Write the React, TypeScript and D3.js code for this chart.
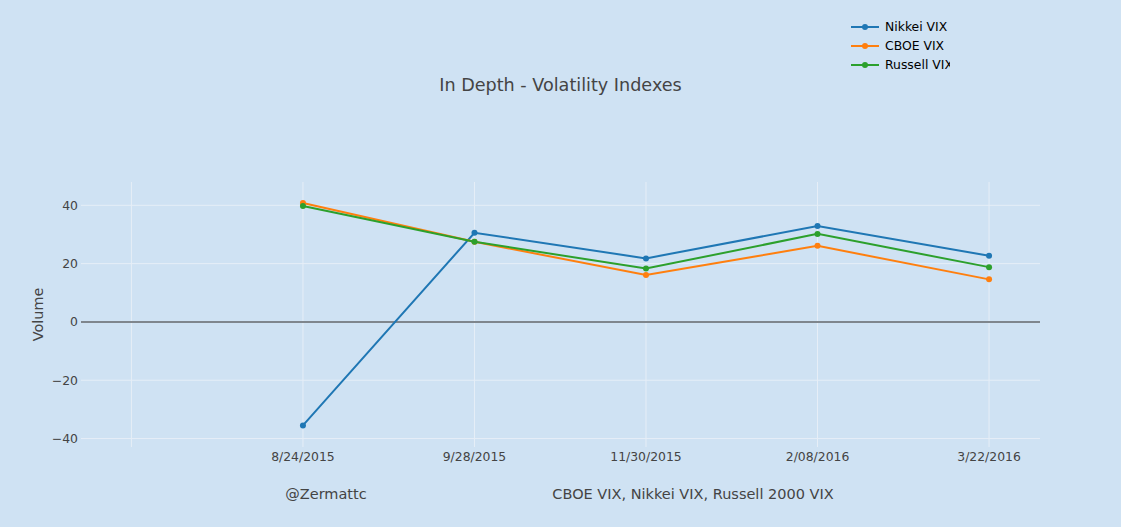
import React from "react";
import * as d3 from "d3";

const categories = ["8/24/2015", "9/28/2015", "11/30/2015", "2/08/2016", "3/22/2016"];
const nikkei = [-35.5, 30.6, 21.8, 32.9, 22.7];
const cboe = [40.8, 27.5, 16.1, 26.1, 14.6];
const russell = [39.8, 27.5, 18.3, 30.2, 18.8];
const yTicks = [-40, -20, 0, 20, 40];
const seriesNames = ["Nikkei VIX", "CBOE VIX", "Russell VIX"];
const seriesColors = ["#1f77b4", "#ff7f0e", "#2ca02c"];

const W = 1121, H = 527;
const L = 81, R = 1040, T = 182, B = 447;
const FONT = "'DejaVu Sans', Verdana, sans-serif";

export default function App() {
  const x = d3.scaleLinear().domain([-1.294, 4.297]).range([L, R]);
  const y = d3.scaleLinear().domain([-42.9, 48.0]).range([B, T]);
  const series = [nikkei, cboe, russell];
  const line = d3.line<number>().x((_, i) => x(i)).y((d) => y(d));
  const gridX = [-1, 0, 1, 2, 3, 4];

  return (
    <svg width={W} height={H} style={{ position: "absolute", left: 0, top: 0 }}>
      <defs>
        <clipPath id="legclip">
          <rect x={840} y={10} width={110} height={70} />
        </clipPath>
      </defs>
      <rect width={W} height={H} fill="#cfe2f3" />
      {gridX.map((g) => (
        <line key={"gx" + g} x1={x(g)} x2={x(g)} y1={T} y2={B} stroke="#e6eef7" strokeWidth={1} />
      ))}
      {yTicks.filter((t) => t !== 0).map((t) => (
        <line key={"gy" + t} x1={L} x2={R} y1={y(t)} y2={y(t)} stroke="#e6eef7" strokeWidth={1} />
      ))}
      <line x1={L} x2={R} y1={y(0)} y2={y(0)} stroke="#7f868d" strokeWidth={2} />
      {yTicks.map((t) => (
        <text key={"yt" + t} x={L - 3} y={y(t)} dy="0.35em" textAnchor="end" fontSize={12.4} fill="#444" fontFamily={FONT}>
          {t < 0 ? "\u2212" + Math.abs(t) : t}
        </text>
      ))}
      {categories.map((c, i) => (
        <text key={c} x={x(i)} y={461} textAnchor="middle" fontSize={12.4} fill="#444" fontFamily={FONT}>
          {c}
        </text>
      ))}
      <text transform={`translate(43,${(T + B) / 2}) rotate(-90)`} textAnchor="middle" fontSize={14.4} fill="#444" fontFamily={FONT}>
        Volume
      </text>
      <text x={560.5} y={91} textAnchor="middle" fontSize={17.6} fill="#444" fontFamily={FONT}>
        In Depth - Volatility Indexes
      </text>
      {series.map((s, k) => (
        <g key={"s" + k}>
          <path d={line(s) || ""} fill="none" stroke={seriesColors[k]} strokeWidth={2} />
          {s.map((v, i) => (
            <circle key={i} cx={x(i)} cy={y(v)} r={3} fill={seriesColors[k]} />
          ))}
        </g>
      ))}
      <text x={326} y={499} textAnchor="middle" fontSize={14.5} fill="#444" fontFamily={FONT}>
        @Zermattc
      </text>
      <text x={693} y={499} textAnchor="middle" fontSize={14.5} fill="#444" fontFamily={FONT}>
        CBOE VIX, Nikkei VIX, Russell 2000 VIX
      </text>
      <g clipPath="url(#legclip)">
        {seriesNames.map((n, k) => (
          <g key={n} transform={`translate(0,${27 + k * 19})`}>
            <line x1={851} x2={879} y1={0} y2={0} stroke={seriesColors[k]} strokeWidth={2} />
            <circle cx={865} cy={0} r={3} fill={seriesColors[k]} />
            <text x={885} y={0} dy="0.35em" fontSize={12.4} fill="#000" fontFamily={FONT}>
              {n}
            </text>
          </g>
        ))}
      </g>
    </svg>
  );
}
